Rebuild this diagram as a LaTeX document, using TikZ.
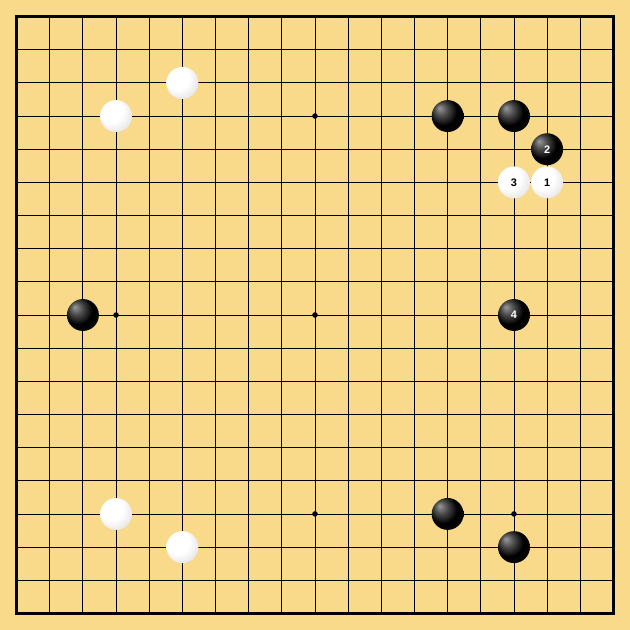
\documentclass[tikz,border=0pt]{standalone}
\usepackage{fontspec}
\setsansfont{Liberation Sans}
\usetikzlibrary{positioning}
\definecolor{boardwood}{HTML}{F9D98A}
\pgfdeclareradialshading{blackstone}{\pgfpoint{-13bp}{13bp}}{color(0bp)=(black!40); color(10bp)=(black!70); color(22bp)=(black); color(40bp)=(black!95); color(50bp)=(black!65)}
\pgfdeclareradialshading{whitestone}{\pgfpoint{-12bp}{12bp}}{color(0bp)=(white); color(18bp)=(white); color(32bp)=(black!10); color(42bp)=(black!28); color(50bp)=(black!45)}

\begin{document}
\begin{tikzpicture}[
        x=0.8cm, y=-0.8cm,
        gridline/.style={line width=0.6pt},
        edgeline/.style={line width=1.5pt},
        hoshi/.style={
                circle,
                fill=black,
                inner sep=0pt,
                minimum size=3.8pt
            },
        stone/.style={
                circle,
                inner sep=0pt,
                minimum size=0.77cm,
                font=\sffamily\bfseries\fontsize{7.5}{8}\selectfont
            },
        black stone/.style={stone, shading=blackstone, text=white},
        white stone/.style={stone, shading=whitestone, text=black},
    ]
    %board
    \useasboundingbox (-0.5,-0.5) rectangle (18.5,18.5);
    \fill[boardwood] (-0.5,-0.5) rectangle (18.5,18.5);
    \foreach \i in {1,...,17} {
            \draw[gridline] (\i,0) -- (\i,18);
            \draw[gridline] (0,\i) -- (18,\i);
        }
    \draw[edgeline] (0,0) rectangle (18,18);
    %star points
    \foreach \c/\r in {3/3,9/3,15/3,3/9,9/9,15/9,3/15,9/15,15/15}
    \node[hoshi] (h-\c-\r) at (\c,\r) {};
    %stones
    \foreach \c/\r in {5/2,3/3,3/15,5/16}
    \node[white stone] (w-\c-\r) at (\c,\r) {};
    \foreach \c/\r in {13/3,15/3,2/9,13/15,15/16}
    \node[black stone] (b-\c-\r) at (\c,\r) {};
    %moves
    \node[white stone] (m1) at (16,5) {1};
    \node[black stone] (m2) at (16,4) {2};
    \node[white stone] (m3) at (15,5) {3};
    \node[black stone] (m4) at (15,9) {4};
\end{tikzpicture}
\end{document}
